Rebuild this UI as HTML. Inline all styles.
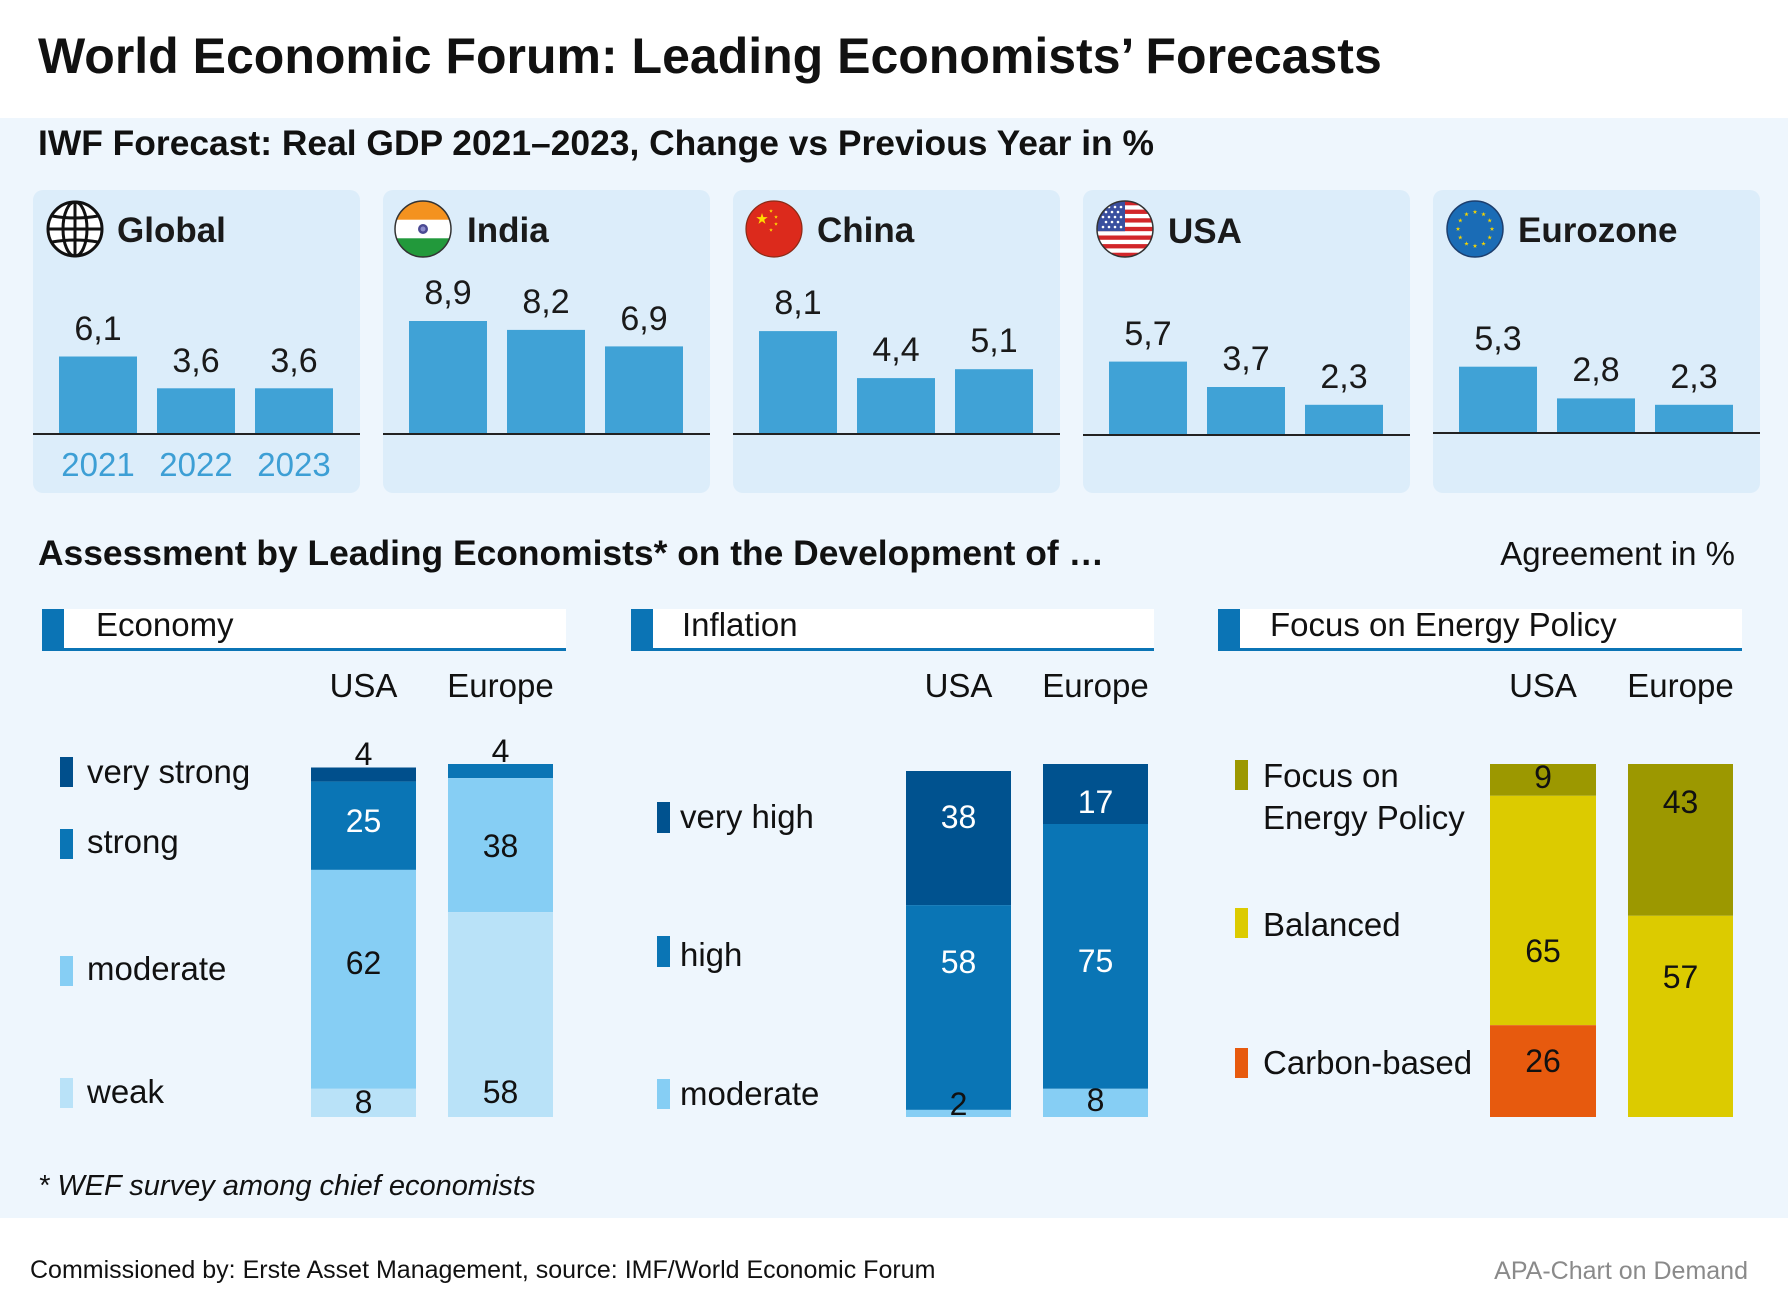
<!DOCTYPE html>
<html><head><meta charset="utf-8"><style>
html,body{margin:0;padding:0;background:#fff}
svg{display:block}
text{font-family:"Liberation Sans",Arial,sans-serif}
</style></head><body>
<svg width="1788" height="1306" viewBox="0 0 1788 1306" xmlns="http://www.w3.org/2000/svg">
<defs>
<polygon id="st" points="0,-1 0.2245,-0.309 0.951,-0.309 0.363,0.118 0.588,0.809 0,0.382 -0.588,0.809 -0.363,0.118 -0.951,-0.309 -0.2245,-0.309"/>
<clipPath id="cc"><circle cx="0" cy="0" r="28"/></clipPath>
</defs>
<rect x="0" y="0" width="1788" height="1306" fill="#fff"/>
<rect x="0" y="118" width="1788" height="1100" fill="#eef6fd"/>

<text x="38" y="73" font-size="50" font-weight="bold" fill="#111">World Economic Forum: Leading Economists’ Forecasts</text>
<text x="38" y="155" font-size="35.4" font-weight="bold" fill="#111">IWF Forecast: Real GDP 2021–2023, Change vs Previous Year in %</text>

<!-- panels -->
<g fill="#dcedfa">
<rect x="33" y="190" width="327" height="303" rx="10"/>
<rect x="383" y="190" width="327" height="303" rx="10"/>
<rect x="733" y="190" width="327" height="303" rx="10"/>
<rect x="1083" y="190" width="327" height="303" rx="10"/>
<rect x="1433" y="190" width="327" height="303" rx="10"/>
</g>

<!-- globe -->
<g transform="translate(75,229)" stroke="#111" stroke-width="3" fill="none">
<circle r="27" fill="#fff"/>
<ellipse rx="12" ry="27"/>
<line x1="0" y1="-27" x2="0" y2="27"/>
<line x1="-27" y1="0" x2="27" y2="0"/>
<path d="M-23,-13 Q0,-9 23,-13"/>
<path d="M-23,13 Q0,9 23,13"/>
</g>
<!-- India -->
<g transform="translate(423,229)">
<g clip-path="url(#cc)">
<rect x="-28" y="-28" width="56" height="19" fill="#f4921f"/>
<rect x="-28" y="-9.3" width="56" height="18.6" fill="#fff"/>
<rect x="-28" y="9.3" width="56" height="19" fill="#22993b"/>
</g>
<circle r="5" fill="#4b4a93"/><circle r="2.5" fill="#8c8ccc"/>
<circle r="28" fill="none" stroke="#333" stroke-width="1.5"/>
</g>
<!-- China -->
<g transform="translate(774,229)">
<circle r="28" fill="#dc2a1c" stroke="#8a2a16" stroke-width="1.2"/>
<use href="#st" transform="translate(-12,-10) scale(6)" fill="#ffdd00"/>
<use href="#st" transform="translate(-3,-18) scale(2)" fill="#ffdd00"/>
<use href="#st" transform="translate(2,-12) scale(2)" fill="#ffdd00"/>
<use href="#st" transform="translate(2,-5) scale(2)" fill="#ffdd00"/>
<use href="#st" transform="translate(-3,1) scale(2)" fill="#ffdd00"/>
</g>
<!-- USA -->
<g transform="translate(1125,229)">
<g clip-path="url(#cc)">
<rect x="-28" y="-28" width="56" height="56" fill="#fff"/>
<g fill="#d2262a">
<rect x="-28" y="-28" width="56" height="4.31"/>
<rect x="-28" y="-19.38" width="56" height="4.31"/>
<rect x="-28" y="-10.76" width="56" height="4.31"/>
<rect x="-28" y="-2.14" width="56" height="4.31"/>
<rect x="-28" y="6.48" width="56" height="4.31"/>
<rect x="-28" y="15.1" width="56" height="4.31"/>
<rect x="-28" y="23.72" width="56" height="4.31"/>
</g>
<rect x="-28" y="-28" width="28" height="30.2" fill="#3a4f9f"/>
<g fill="#fff">
<circle cx="-22" cy="-22" r="1.3"/><circle cx="-16" cy="-22" r="1.3"/><circle cx="-10" cy="-22" r="1.3"/><circle cx="-4" cy="-22" r="1.3"/>
<circle cx="-19" cy="-17" r="1.3"/><circle cx="-13" cy="-17" r="1.3"/><circle cx="-7" cy="-17" r="1.3"/>
<circle cx="-22" cy="-12" r="1.3"/><circle cx="-16" cy="-12" r="1.3"/><circle cx="-10" cy="-12" r="1.3"/><circle cx="-4" cy="-12" r="1.3"/>
<circle cx="-19" cy="-7" r="1.3"/><circle cx="-13" cy="-7" r="1.3"/><circle cx="-7" cy="-7" r="1.3"/>
<circle cx="-22" cy="-2" r="1.3"/><circle cx="-16" cy="-2" r="1.3"/><circle cx="-10" cy="-2" r="1.3"/><circle cx="-4" cy="-2" r="1.3"/>
</g>
</g>
<circle r="28" fill="none" stroke="#333" stroke-width="1.5"/>
</g>
<!-- EU -->
<g transform="translate(1475,229)">
<circle r="28" fill="#1a6cb6" stroke="#1d3f6e" stroke-width="1.5"/>
<g fill="#f5d400">
<use href="#st" transform="translate(0,-17) scale(2.4)"/>
<use href="#st" transform="translate(8.5,-14.7) scale(2.4)"/>
<use href="#st" transform="translate(14.7,-8.5) scale(2.4)"/>
<use href="#st" transform="translate(17,0) scale(2.4)"/>
<use href="#st" transform="translate(14.7,8.5) scale(2.4)"/>
<use href="#st" transform="translate(8.5,14.7) scale(2.4)"/>
<use href="#st" transform="translate(0,17) scale(2.4)"/>
<use href="#st" transform="translate(-8.5,14.7) scale(2.4)"/>
<use href="#st" transform="translate(-14.7,8.5) scale(2.4)"/>
<use href="#st" transform="translate(-17,0) scale(2.4)"/>
<use href="#st" transform="translate(-14.7,-8.5) scale(2.4)"/>
<use href="#st" transform="translate(-8.5,-14.7) scale(2.4)"/>
</g>
</g>

<g font-size="35" font-weight="bold" fill="#1a1a1a">
<text x="117" y="242">Global</text>
<text x="467" y="242">India</text>
<text x="817" y="242">China</text>
<text x="1168" y="243">USA</text>
<text x="1518" y="242">Eurozone</text>
</g>

<!-- GDP bars (12.7 px/unit, axis 434) -->
<g fill="#40a2d6">
<rect x="59" y="356.5" width="78" height="77.5"/>
<rect x="157" y="388.3" width="78" height="45.7"/>
<rect x="255" y="388.3" width="78" height="45.7"/>

<rect x="409" y="321" width="78" height="113"/>
<rect x="507" y="329.9" width="78" height="104.1"/>
<rect x="605" y="346.4" width="78" height="87.6"/>

<rect x="759" y="331.1" width="78" height="102.9"/>
<rect x="857" y="378.1" width="78" height="55.9"/>
<rect x="955" y="369.2" width="78" height="64.8"/>

<rect x="1109" y="361.6" width="78" height="72.4"/>
<rect x="1207" y="387" width="78" height="47"/>
<rect x="1305" y="404.8" width="78" height="29.2"/>

<rect x="1459" y="366.7" width="78" height="67.3"/>
<rect x="1557" y="398.4" width="78" height="35.6"/>
<rect x="1655" y="404.8" width="78" height="29.2"/>
</g>
<g stroke="#222" stroke-width="2">
<line x1="33" y1="434" x2="360" y2="434"/>
<line x1="383" y1="434" x2="710" y2="434"/>
<line x1="733" y1="434" x2="1060" y2="434"/>
<line x1="1083" y1="435" x2="1410" y2="435"/>
<line x1="1433" y1="433" x2="1760" y2="433"/>
</g>
<g font-size="34" fill="#1a1a1a" text-anchor="middle">
<text x="98" y="340">6,1</text>
<text x="196" y="372">3,6</text>
<text x="294" y="372">3,6</text>
<text x="448" y="304">8,9</text>
<text x="546" y="313">8,2</text>
<text x="644" y="330">6,9</text>
<text x="798" y="314">8,1</text>
<text x="896" y="361">4,4</text>
<text x="994" y="352">5,1</text>
<text x="1148" y="345">5,7</text>
<text x="1246" y="370">3,7</text>
<text x="1344" y="388">2,3</text>
<text x="1498" y="350">5,3</text>
<text x="1596" y="381">2,8</text>
<text x="1694" y="388">2,3</text>
</g>
<g font-size="33" fill="#3d9fd5" text-anchor="middle">
<text x="98" y="476">2021</text>
<text x="196" y="476">2022</text>
<text x="294" y="476">2023</text>
</g>

<!-- Assessment -->
<text x="38" y="565" font-size="35.4" font-weight="bold" fill="#111">Assessment by Leading Economists* on the Development of …</text>
<text x="1735" y="565" font-size="33" fill="#111" text-anchor="end">Agreement in %</text>

<!-- headers -->
<g>
<rect x="42" y="609" width="524" height="39" fill="#fff"/>
<rect x="42" y="648" width="524" height="3" fill="#0b74b5"/>
<rect x="42" y="609" width="22" height="42" fill="#0b74b5"/>
<rect x="631" y="609" width="523" height="39" fill="#fff"/>
<rect x="631" y="648" width="523" height="3" fill="#0b74b5"/>
<rect x="631" y="609" width="22" height="42" fill="#0b74b5"/>
<rect x="1218" y="609" width="524" height="39" fill="#fff"/>
<rect x="1218" y="648" width="524" height="3" fill="#0b74b5"/>
<rect x="1218" y="609" width="22" height="42" fill="#0b74b5"/>
</g>
<g font-size="33" fill="#111">
<text x="96" y="636">Economy</text>
<text x="682" y="636">Inflation</text>
<text x="1270" y="636">Focus on Energy Policy</text>
</g>
<g font-size="33" fill="#111" text-anchor="middle">
<text x="363.5" y="697">USA</text>
<text x="500.5" y="697">Europe</text>
<text x="958.5" y="697">USA</text>
<text x="1095.5" y="697">Europe</text>
<text x="1543" y="697">USA</text>
<text x="1680.5" y="697">Europe</text>
</g>

<!-- Economy legend -->
<rect x="60" y="757" width="13" height="30" fill="#004f8c"/>
<rect x="60" y="829" width="13" height="30" fill="#0a75b5"/>
<rect x="60" y="956" width="13" height="30" fill="#86cef4"/>
<rect x="60" y="1078" width="13" height="30" fill="#b9e2f8"/>
<g font-size="33" fill="#111">
<text x="87" y="783">very strong</text>
<text x="87" y="853">strong</text>
<text x="87" y="980">moderate</text>
<text x="87" y="1103">weak</text>
</g>
<!-- Economy bars -->
<rect x="311" y="767.5" width="105" height="14.1" fill="#004f8c"/>
<rect x="311" y="781.6" width="105" height="88.3" fill="#0a75b5"/>
<rect x="311" y="869.9" width="105" height="218.9" fill="#86cef4"/>
<rect x="311" y="1088.8" width="105" height="28.2" fill="#b9e2f8"/>
<rect x="448" y="764" width="105" height="14.1" fill="#0a75b5"/>
<rect x="448" y="778.1" width="105" height="134.1" fill="#86cef4"/>
<rect x="448" y="912.2" width="105" height="204.8" fill="#b9e2f8"/>
<g font-size="32" fill="#111" text-anchor="middle">
<text x="363.5" y="765">4</text>
<text x="363.5" y="832" fill="#fff">25</text>
<text x="363.5" y="974">62</text>
<text x="363.5" y="1113">8</text>
<text x="500.5" y="762">4</text>
<text x="500.5" y="857">38</text>
<text x="500.5" y="1103">58</text>
</g>

<!-- Inflation legend -->
<rect x="657" y="802" width="13" height="31" fill="#00528f"/>
<rect x="657" y="936" width="13" height="31" fill="#0a75b5"/>
<rect x="657" y="1079" width="13" height="30" fill="#86cef4"/>
<g font-size="33" fill="#111">
<text x="680" y="828">very high</text>
<text x="680" y="966">high</text>
<text x="680" y="1105">moderate</text>
</g>
<rect x="906" y="771" width="105" height="134.1" fill="#00528f"/>
<rect x="906" y="905.1" width="105" height="204.8" fill="#0a75b5"/>
<rect x="906" y="1109.9" width="105" height="7.1" fill="#86cef4"/>
<rect x="1043" y="764" width="105" height="60" fill="#00528f"/>
<rect x="1043" y="824" width="105" height="264.8" fill="#0a75b5"/>
<rect x="1043" y="1088.8" width="105" height="28.2" fill="#86cef4"/>
<g font-size="32" fill="#fff" text-anchor="middle">
<text x="958.5" y="828">38</text>
<text x="958.5" y="973">58</text>
<text x="958.5" y="1115" fill="#111">2</text>
<text x="1095.5" y="813">17</text>
<text x="1095.5" y="972">75</text>
<text x="1095.5" y="1111" fill="#111">8</text>
</g>

<!-- Energy legend -->
<rect x="1235" y="760" width="13" height="30" fill="#9c9800"/>
<rect x="1235" y="908" width="13" height="30" fill="#dccb00"/>
<rect x="1235" y="1048" width="13" height="30" fill="#e75a0e"/>
<g font-size="33" fill="#111">
<text x="1263" y="787">Focus on</text>
<text x="1263" y="829">Energy Policy</text>
<text x="1263" y="936">Balanced</text>
<text x="1263" y="1074">Carbon-based</text>
</g>
<rect x="1490" y="764" width="106" height="31.8" fill="#9c9800"/>
<rect x="1490" y="795.8" width="106" height="229.4" fill="#dccb00"/>
<rect x="1490" y="1025.2" width="106" height="91.8" fill="#e75a0e"/>
<rect x="1628" y="764" width="105" height="151.8" fill="#9c9800"/>
<rect x="1628" y="915.8" width="105" height="201.2" fill="#dccb00"/>
<g font-size="32" fill="#111" text-anchor="middle">
<text x="1543" y="788">9</text>
<text x="1543" y="962">65</text>
<text x="1543" y="1072">26</text>
<text x="1680.5" y="813">43</text>
<text x="1680.5" y="988">57</text>
</g>

<text x="38" y="1195" font-size="29" font-style="italic" fill="#111">* WEF survey among chief economists</text>
<text x="30" y="1278" font-size="25" fill="#111">Commissioned by: Erste Asset Management, source: IMF/World Economic Forum</text>
<text x="1748" y="1279" font-size="25" fill="#8a8a8a" text-anchor="end">APA-Chart on Demand</text>
</svg>
</body></html>
